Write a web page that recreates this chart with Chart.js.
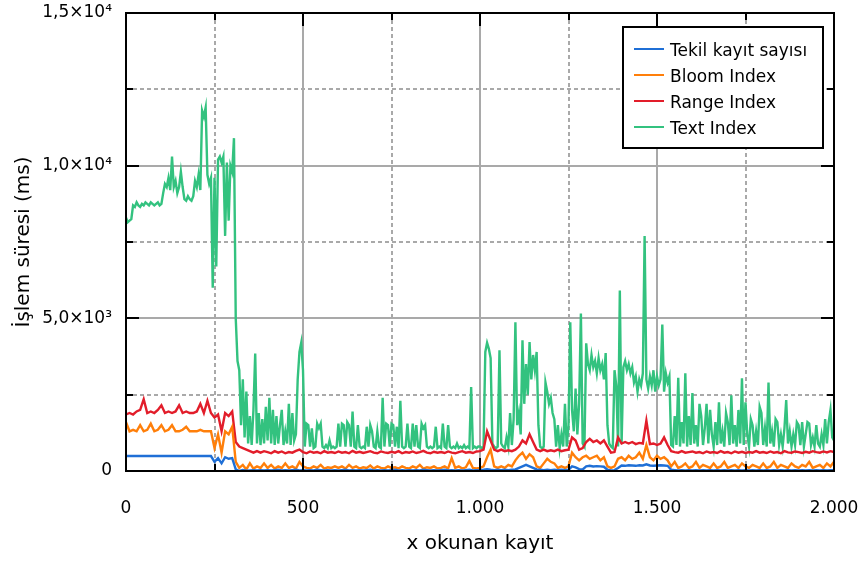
<!DOCTYPE html>
<html lang="tr">
<head>
<meta charset="UTF-8">
<title>İşlem süresi</title>
<script src="https://cdn.jsdelivr.net/npm/chart.js"></script>
<style>
  body { margin: 0; background: #fff; }
  #grafik { display: block; }
</style>
</head>
<body>
<canvas id="grafik" width="859" height="561"></canvas>
<script>
// okunan kayıt adımları
const adimText = 5;
const adimDiger = 10;

// eksen etiketleri
const xEtiketleri = { 0: '0', 500: '500', 1000: '1.000', 1500: '1.500', 2000: '2.000' };
const yEtiketleri = { 0: '0', 5000: '5,0×10³', 10000: '1,0×10⁴', 15000: '1,5×10⁴' };
const seriAdlari = ['Tekil kayıt sayısı', 'Bloom Index', 'Range Index', 'Text Index'];
const seriRenkleri = ['#1f6fd6', '#ff7f0a', '#e21d2a', '#33c27f'];

// Tekil kayıt sayısı (her 10 kayıtta)
const tekilKayit = [
  490, 490, 490, 490, 490, 490, 490, 490, 490, 490, 490, 490, 490, 490, 490, 490, 490, 490, 490, 490,
  490, 490, 490, 490, 490, 300, 420, 250, 450, 400, 420, 50, 0, 30, 10, 20, 30, 20, 30, 20,
  30, 20, 30, 40, 20, 30, 20, 30, 40, 20, 30, 20, 30, 20, 40, 30, 20, 30, 20, 30,
  20, 30, 40, 20, 30, 20, 30, 20, 30, 40, 20, 30, 20, 30, 20, 30, 40, 20, 30, 20,
  30, 20, 30, 20, 40, 30, 20, 30, 20, 30, 40, 20, 30, 20, 30, 20, 30, 40, 20, 30,
  30, 40, 60, 40, 30, 40, 30, 40, 30, 40, 50, 100, 150, 200, 150, 100, 50, 40, 30, 40,
  30, 40, 30, 40, 30, 40, 150, 120, 60, 50, 150, 170, 150, 160, 150, 140, 40, 20, 30, 100,
  180, 170, 190, 180, 170, 190, 180, 220, 180, 170, 180, 190, 180, 170, 40, 30, 20, 30, 20, 30,
  20, 30, 20, 30, 20, 30, 20, 30, 20, 30, 20, 30, 20, 30, 20, 30, 20, 30, 20, 30,
  20, 30, 20, 30, 20, 30, 20, 30, 20, 30, 20, 30, 20, 30, 20, 30, 20, 30, 20, 30,
  30
];

// Bloom Index (her 10 kayıtta)
const bloomIndex = [
  1600, 1300, 1350, 1300, 1500, 1300, 1350, 1550, 1300, 1350, 1500, 1300, 1350, 1500, 1300, 1300, 1350, 1450, 1300, 1300,
  1300, 1350, 1300, 1300, 1300, 750, 1200, 600, 1300, 1200, 1450, 300, 100, 200, 50, 250, 80, 150, 100, 250,
  100, 200, 80, 150, 100, 250, 100, 150, 80, 300, 150, 100, 80, 150, 100, 200, 80, 120, 100, 150,
  100, 150, 80, 200, 100, 150, 80, 120, 100, 180, 80, 150, 100, 80, 150, 100, 120, 80, 150, 100,
  80, 150, 100, 200, 80, 120, 100, 150, 80, 100, 150, 80, 420, 100, 150, 80, 120, 330, 100, 80,
  100, 150, 450, 700, 150, 100, 150, 100, 200, 150, 350, 500, 600, 400, 550, 450, 150, 100, 250, 400,
  300, 250, 100, 150, 100, 150, 600, 450, 350, 450, 500, 400, 450, 500, 350, 450, 150, 100, 150, 400,
  450, 350, 500, 400, 450, 600, 400, 850, 450, 350, 500, 400, 450, 350, 150, 300, 100, 150, 250, 100,
  150, 300, 100, 200, 150, 100, 250, 100, 150, 300, 100, 150, 200, 100, 250, 150, 100, 200, 150, 100,
  250, 100, 150, 300, 100, 200, 150, 100, 250, 150, 100, 200, 150, 300, 100, 150, 200, 100, 250, 150,
  300
];

// Range Index (her 10 kayıtta)
const rangeIndex = [
  1850, 1900, 1850, 1950, 2000, 2350, 1900, 1950, 1900, 2000, 2150, 1900, 1950, 1900, 1950, 2150, 1900, 1950, 1900, 1900,
  1950, 2200, 1900, 2300, 1900, 1750, 1850, 1300, 1900, 1800, 1950, 950, 800, 750, 700, 650, 600, 650, 600, 650,
  620, 580, 650, 600, 640, 580, 620, 600, 660, 700, 620, 580, 640, 600, 620, 580, 650, 600, 620, 590,
  640, 600, 620, 580, 660, 600, 630, 590, 620, 650, 600, 580, 640, 610, 590, 630, 600, 650, 580, 620,
  600, 640, 590, 620, 660, 600, 580, 630, 600, 620, 590, 640, 600, 580, 620, 650, 600, 620, 590, 640,
  650, 700, 1300, 1000, 700, 650, 700, 650, 680, 650, 700, 800, 1000, 900, 1200, 950, 700, 650, 700, 650,
  680, 650, 700, 650, 680, 700, 1100, 1000, 700, 750, 950, 1050, 950, 1000, 900, 1000, 800, 600, 620, 1100,
  900, 950, 900, 950, 880, 920, 900, 1650, 880, 900, 850, 900, 1100, 850, 650, 620, 600, 650, 600, 620,
  640, 600, 620, 580, 640, 600, 620, 590, 650, 600, 620, 580, 640, 600, 630, 590, 620, 600, 650, 600,
  620, 590, 640, 600, 620, 580, 650, 610, 600, 640, 620, 590, 630, 600, 650, 620, 600, 640, 610, 650,
  620
];

// Text Index (her 5 kayıtta)
const textIndex = [
  8300, 8150, 8200, 8250, 8700, 8650, 8800, 8700, 8650, 8750, 8700, 8800, 8750, 8700, 8800, 8750, 8700, 8750, 8800, 8700,
  8750, 9100, 9400, 9300, 9600, 9200, 10300, 9300, 9500, 9100, 9300, 9800, 9300, 8900, 8850, 9000, 8900, 8850, 9000, 9500,
  9300, 9700, 9200, 11800, 11600, 11900, 9700, 9400, 9600, 6000, 9600, 6700, 10200, 10300, 10100, 10300, 7700, 10100, 8200, 10000,
  9800, 10900, 5000, 3600, 3300, 1500, 3000, 1100, 2600, 900, 1800, 850, 2000, 3850, 900, 1900, 850, 1700, 900, 2100,
  1000, 2400, 900, 2000, 850, 1800, 900, 1500, 2000, 850, 1300, 900, 2200, 850, 1900, 1000, 1200, 3000, 3900, 4200,
  3300, 800, 1550, 1500, 800, 1400, 750, 800, 1550, 1400, 1550, 800, 750, 850, 750, 1000, 750, 800, 750, 800,
  1550, 800, 1550, 1500, 800, 1600, 1500, 800, 1950, 800, 750, 1500, 800, 750, 800, 750, 1450, 800, 1500, 1300,
  800, 750, 1300, 800, 750, 2400, 800, 1550, 1500, 800, 1550, 1500, 800, 1450, 750, 2300, 800, 750, 800, 1550,
  800, 750, 1550, 800, 1500, 800, 750, 1550, 1400, 1500, 800, 750, 800, 750, 800, 1450, 750, 800, 750, 1550,
  800, 750, 1500, 800, 750, 800, 750, 900, 750, 800, 750, 850, 750, 800, 750, 2750, 750, 800, 750, 800,
  800, 750, 800, 3900, 4200, 4000, 3700, 900, 800, 750, 800, 3950, 900, 800, 750, 1100, 800, 1900, 850, 1700,
  4870, 1500, 1900, 1200, 4280, 2200, 3500, 2500, 4220, 3000, 3800, 3300, 3900, 1500, 800, 750, 800, 2900, 2600, 2200,
  2400, 1900, 1700, 800, 1500, 750, 1200, 800, 2200, 800, 1500, 4870, 2000, 1300, 2700, 1200, 2200, 5160, 900, 800,
  4180, 3500, 3300, 3800, 3400, 3600, 3200, 3700, 3300, 3500, 3000, 3860, 1500, 900, 800, 750, 3300, 2800, 800, 5915,
  900, 3400, 3600, 3300, 3500, 3200, 3400, 2900, 3100, 2600, 3000, 2800, 3200, 7700, 3000, 2700, 3100, 2800, 3300, 2600,
  3100, 2800, 3000, 4800, 2600, 3200, 2900, 3100, 850, 800, 1800, 850, 3050, 800, 1600, 900, 3200, 800, 1800, 850,
  2550, 900, 1500, 800, 2200, 1800, 850, 1400, 2200, 900, 2000, 1200, 800, 1600, 850, 2250, 900, 1300, 800, 1900,
  1600, 850, 2480, 900, 1500, 800, 2000, 900, 3040, 850, 2250, 1200, 800, 1700, 1500, 800, 1300, 850, 2100, 1900,
  850, 1400, 800, 2900, 900, 1300, 800, 1700, 1600, 850, 1200, 800, 1400, 2320, 900, 1300, 800, 1200, 850, 1600,
  1500, 850, 1600, 800, 1200, 1600, 1550, 850, 1100, 800, 1500, 900, 800, 1200, 850, 1700, 900, 1600, 2000, 1100,
  1000
];

const seriDegerleri = [tekilKayit, bloomIndex, rangeIndex, textIndex];
const seriAdimlari = [adimDiger, adimDiger, adimDiger, adimText];

const yazi = '"DejaVu Sans", Verdana, sans-serif';

// ızgara, çerçeve, iç çentikler ve lejant
const cerceve = {
  id: 'cerceve',
  beforeDatasetsDraw(chart) {
    const { ctx, chartArea: a, scales: { x, y } } = chart;
    ctx.save();
    ctx.strokeStyle = '#a9a9a9';
    ctx.lineWidth = 2;
    for (let v = 250; v < 2000; v += 250) {
      const px = Math.round(x.getPixelForValue(v));
      ctx.setLineDash(v % 500 === 0 ? [] : [4, 3]);
      ctx.beginPath(); ctx.moveTo(px, a.top); ctx.lineTo(px, a.bottom); ctx.stroke();
    }
    for (let v = 2500; v < 15000; v += 2500) {
      const py = Math.round(y.getPixelForValue(v));
      ctx.setLineDash(v % 5000 === 0 ? [] : [4, 3]);
      ctx.beginPath(); ctx.moveTo(a.left, py); ctx.lineTo(a.right, py); ctx.stroke();
    }
    ctx.restore();
  },
  afterDatasetsDraw(chart) {
    const { ctx, chartArea: a, scales: { x, y } } = chart;
    ctx.save();
    ctx.strokeStyle = '#000';
    ctx.lineWidth = 2;
    ctx.setLineDash([]);
    // çentikler
    for (let v = 250; v < 2000; v += 250) {
      const px = Math.round(x.getPixelForValue(v));
      const l = v % 500 === 0 ? 13 : 7;
      ctx.beginPath();
      ctx.moveTo(px, a.bottom); ctx.lineTo(px, a.bottom - l);
      ctx.moveTo(px, a.top); ctx.lineTo(px, a.top + l);
      ctx.stroke();
    }
    for (let v = 2500; v < 15000; v += 2500) {
      const py = Math.round(y.getPixelForValue(v));
      const l = v % 5000 === 0 ? 13 : 7;
      ctx.beginPath();
      ctx.moveTo(a.left, py); ctx.lineTo(a.left + l, py);
      ctx.moveTo(a.right, py); ctx.lineTo(a.right - l, py);
      ctx.stroke();
    }
    ctx.strokeRect(a.left, a.top, a.right - a.left, a.bottom - a.top);

    // lejant kutusu
    const kx = 623, ky = 27, kw = 200, kh = 121;
    ctx.fillStyle = '#fff';
    ctx.fillRect(kx, ky, kw, kh);
    ctx.strokeRect(kx, ky, kw, kh);
    ctx.font = '17px ' + yazi;
    ctx.textBaseline = 'middle';
    ctx.textAlign = 'left';
    chart.data.datasets.forEach((ds, i) => {
      const sy = ky + 22 + i * 26;
      ctx.strokeStyle = ds.borderColor;
      ctx.lineWidth = 2;
      ctx.beginPath(); ctx.moveTo(kx + 11, sy); ctx.lineTo(kx + 41, sy); ctx.stroke();
      ctx.fillStyle = '#000';
      ctx.fillText(ds.label, kx + 47, sy + 3);
    });
    ctx.restore();
  }
};

new Chart(document.getElementById('grafik'), {
  type: 'line',
  data: {
    datasets: seriDegerleri.map((degerler, i) => ({
      label: seriAdlari[i],
      data: degerler.map((v, j) => ({ x: j * seriAdimlari[i], y: v })),
      borderColor: seriRenkleri[i],
      borderWidth: 2.4,
      pointRadius: 0,
      tension: 0,
      fill: false
    }))
  },
  options: {
    responsive: false,
    animation: false,
    layout: { padding: { top: 13, right: 25, left: 0, bottom: 0 } },
    plugins: { legend: { display: false }, tooltip: { enabled: false } },
    scales: {
      x: {
        type: 'linear',
        min: 0, max: 2000,
        afterFit: s => { s.height = 90; s.paddingLeft = 0; s.paddingRight = 0; },
        grid: { display: false, drawTicks: false },
        border: { display: false },
        ticks: {
          stepSize: 500,
          padding: 27,
          color: '#000',
          maxRotation: 0,
          font: { family: yazi, size: 17 },
          callback: v => xEtiketleri[v] ?? ''
        },
        title: {
          display: true,
          text: 'x okunan kayıt',
          color: '#000',
          font: { family: yazi, size: 20 },
          padding: { top: 0, bottom: 5 }
        }
      },
      y: {
        min: 0, max: 15000,
        afterFit: s => { s.width = 126; s.paddingTop = 0; s.paddingBottom = 0; },
        grid: { display: false, drawTicks: false },
        border: { display: false },
        ticks: {
          stepSize: 5000,
          padding: 14,
          color: '#000',
          font: { family: yazi, size: 17 },
          callback: v => yEtiketleri[v] ?? ''
        },
        title: {
          display: true,
          text: 'İşlem süresi (ms)',
          color: '#000',
          font: { family: yazi, size: 20 },
          padding: { top: 12, bottom: 0 }
        }
      }
    }
  },
  plugins: [cerceve]
});
</script>
</body>
</html>
